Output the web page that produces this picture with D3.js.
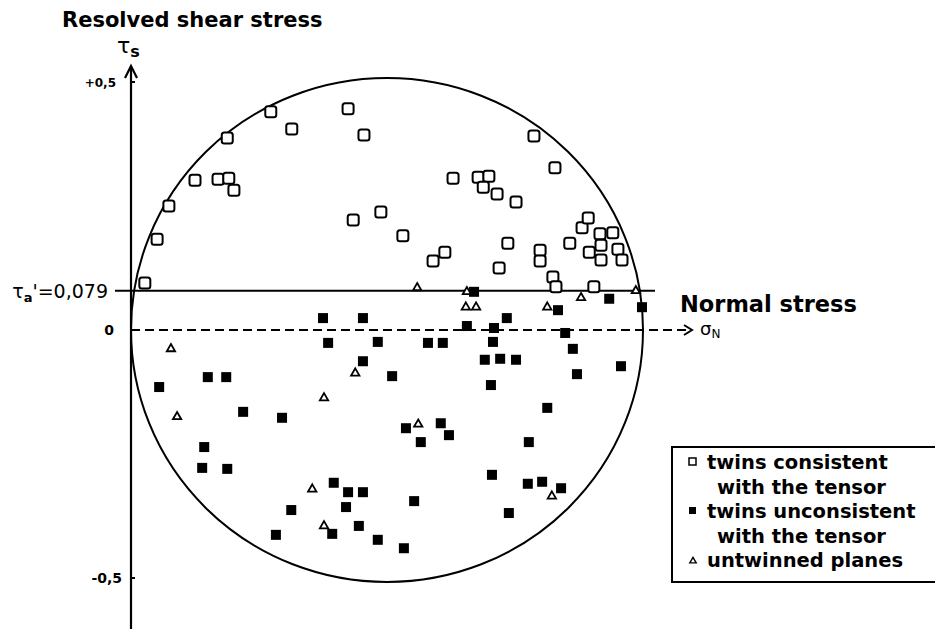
<!DOCTYPE html>
<html>
<head>
<meta charset="utf-8">
<script src="https://cdn.jsdelivr.net/npm/d3@7"></script>
<style>
  body { margin: 0; background: #fff; }
  svg { display: block; font-family: "DejaVu Sans", sans-serif; }
</style>
</head>
<body>
<div id="chart"></div>
<script>
// normal stress (sigma N) and resolved shear stress (tau s)
var consistentSigma = [0.027, 0.051, 0.074, 0.125, 0.170, 0.191, 0.201, 0.188, 0.273, 0.314, 0.424, 0.455, 0.434, 0.488,
  0.531, 0.590, 0.613, 0.629, 0.678, 0.699, 0.688, 0.715, 0.752, 0.787, 0.828, 0.736, 0.719, 0.799, 0.799, 0.824,
  0.830, 0.857, 0.881, 0.893, 0.895, 0.916, 0.918, 0.918, 0.941, 0.951, 0.959, 0.904];
var consistentTau = [0.095, 0.183, 0.250, 0.302, 0.304, 0.306, 0.282, 0.387, 0.440, 0.405, 0.446, 0.393, 0.222, 0.238,
  0.190, 0.139, 0.157, 0.306, 0.308, 0.310, 0.288, 0.274, 0.258, 0.391, 0.327, 0.175, 0.125, 0.161, 0.139, 0.107,
  0.087, 0.175, 0.206, 0.226, 0.157, 0.194, 0.171, 0.141, 0.196, 0.163, 0.141, 0.087];

var unconsistentSigma = [0.375, 0.453, 0.385, 0.482, 0.453, 0.510, 0.055, 0.150, 0.186, 0.219, 0.295, 0.670, 0.998,
  0.834, 0.934, 0.734, 0.656, 0.709, 0.848, 0.580, 0.609, 0.707, 0.691, 0.721, 0.752, 0.863, 0.871, 0.957, 0.703,
  0.813, 0.537, 0.605, 0.621, 0.566, 0.777, 0.705, 0.775, 0.803, 0.840, 0.553, 0.738, 0.143, 0.139, 0.188, 0.396,
  0.424, 0.453, 0.313, 0.420, 0.445, 0.283, 0.393, 0.482, 0.533];
var unconsistentTau = [0.024, 0.024, -0.026, -0.024, -0.063, -0.093, -0.115, -0.095, -0.095, -0.165, -0.177, 0.077, 0.046,
  0.040, 0.063, 0.024, 0.008, 0.004, -0.006, -0.026, -0.026, -0.024, -0.060, -0.058, -0.060, -0.038, -0.089, -0.073, -0.111,
  -0.157, -0.198, -0.188, -0.212, -0.226, -0.226, -0.292, -0.310, -0.306, -0.319, -0.345, -0.369, -0.236, -0.278, -0.280, -0.308,
  -0.327, -0.327, -0.363, -0.357, -0.395, -0.413, -0.411, -0.423, -0.440];

var untwinnedSigma = [0.078, 0.090, 0.438, 0.377, 0.559, 0.656, 0.654, 0.674, 0.813, 0.879, 0.986, 0.561, 0.354, 0.377, 0.822];
var untwinnedTau = [-0.038, -0.175, -0.087, -0.137, 0.085, 0.077, 0.046, 0.046, 0.046, 0.065, 0.079, -0.190, -0.321, -0.395, -0.335];

var tauA = 0.079;
var tickValues = [0.5, 0, -0.5];
var tickLabels = ['+0,5', '0', '-0,5'];
var legendLines = ['twins consistent', 'with the tensor', 'twins unconsistent', 'with the tensor', 'untwinned planes'];

var width = 935, height = 629;

var svg = d3.select('#chart').append('svg')
  .attr('width', width)
  .attr('height', height);

// scales: sigma 0..1 across the circle, tau -0.5..0.5
var x = d3.scaleLinear().domain([0, 1]).range([131, 643]);
var y = d3.scaleLinear().domain([-0.5, 0.5]).range([578, 82]);

// Mohr circle
svg.append('ellipse')
  .attr('cx', x(0.5))
  .attr('cy', y(0))
  .attr('rx', x(1) - x(0.5))
  .attr('ry', y(-0.508) - y(0))
  .attr('fill', 'none')
  .attr('stroke', '#000')
  .attr('stroke-width', 2);

// vertical axis with arrow
svg.append('line')
  .attr('x1', x(0)).attr('x2', x(0))
  .attr('y1', 68).attr('y2', height)
  .attr('stroke', '#000').attr('stroke-width', 2.2);
svg.append('path')
  .attr('d', 'M' + (x(0) - 6) + ',78 L' + x(0) + ',66 L' + (x(0) + 6) + ',78')
  .attr('fill', 'none').attr('stroke', '#000').attr('stroke-width', 2.2);

// ticks and labels
svg.selectAll('.tick')
  .data(tickValues.filter(function (d) { return d !== 0; }))
  .enter().append('line')
  .attr('x1', x(0)).attr('x2', x(0) + 4)
  .attr('y1', function (d) { return y(d); })
  .attr('y2', function (d) { return y(d); })
  .attr('stroke', '#000').attr('stroke-width', 2);

svg.selectAll('.tlabel')
  .data(tickValues)
  .enter().append('text')
  .attr('x', function (d, i) { return i === 1 ? 114 : (i === 0 ? 116 : 122); })
  .attr('y', function (d) { return y(d) + 5; })
  .attr('text-anchor', 'end')
  .attr('font-size', function (d, i) { return i === 0 ? '12px' : '14px'; })
  .attr('font-weight', 'bold')
  .text(function (d, i) { return tickLabels[i]; });

// tau_a' threshold line
svg.append('line')
  .attr('x1', 115).attr('x2', 655)
  .attr('y1', y(tauA)).attr('y2', y(tauA))
  .attr('stroke', '#000').attr('stroke-width', 2);
var ta = svg.append('text')
  .attr('x', 108)
  .attr('y', y(tauA) + 7)
  .attr('text-anchor', 'end')
  .attr('font-size', '19px');
ta.append('tspan').text('τ');
ta.append('tspan').attr('font-size', '13px').attr('dy', 4).attr('font-weight', 'bold').text('a');
ta.append('tspan').attr('dy', -4).text("'=0,079");

// dashed sigma N axis
svg.append('line')
  .attr('x1', x(0)).attr('x2', 690)
  .attr('y1', y(0)).attr('y2', y(0))
  .attr('stroke', '#000').attr('stroke-width', 2)
  .attr('stroke-dasharray', '9,5');
svg.append('path')
  .attr('d', 'M684,' + (y(0) - 5) + ' L692,' + y(0) + ' L684,' + (y(0) + 5))
  .attr('fill', 'none').attr('stroke', '#000').attr('stroke-width', 2);

var sn = svg.append('text').attr('x', 700).attr('y', y(0) + 5).attr('font-size', '18px');
sn.append('tspan').text('σ');
sn.append('tspan').attr('font-size', '12px').attr('dy', 3).text('N');

// axis titles
svg.append('text')
  .attr('x', 62).attr('y', 27)
  .attr('font-size', '21px').attr('font-weight', 'bold')
  .text('Resolved shear stress');
var ts = svg.append('text').attr('x', 117).attr('y', 53).attr('font-size', '22px');
ts.append('tspan').text('τ');
ts.append('tspan').attr('font-size', '16px').attr('font-weight', 'bold').attr('dy', 4).text('s');

svg.append('text')
  .attr('x', 680).attr('y', 312)
  .attr('font-size', '22.5px').attr('font-weight', 'bold')
  .text('Normal stress');

// points
var pts = svg.append('g');
pts.selectAll('.open')
  .data(d3.range(consistentSigma.length))
  .enter().append('rect')
  .attr('x', function (i) { return x(consistentSigma[i]) - 5.5; })
  .attr('y', function (i) { return y(consistentTau[i]) - 5.5; })
  .attr('width', 11).attr('height', 11).attr('rx', 2.5)
  .attr('fill', '#fff').attr('stroke', '#000').attr('stroke-width', 2);

pts.selectAll('.filled')
  .data(d3.range(unconsistentSigma.length))
  .enter().append('rect')
  .attr('x', function (i) { return x(unconsistentSigma[i]) - 5; })
  .attr('y', function (i) { return y(unconsistentTau[i]) - 5; })
  .attr('width', 10).attr('height', 10)
  .attr('fill', '#000');

var tri = d3.symbol().type(d3.symbolTriangle).size(30);
pts.selectAll('.tri')
  .data(d3.range(untwinnedSigma.length))
  .enter().append('path')
  .attr('d', tri)
  .attr('transform', function (i) { return 'translate(' + x(untwinnedSigma[i]) + ',' + y(untwinnedTau[i]) + ')'; })
  .attr('fill', '#fff').attr('stroke', '#000').attr('stroke-width', 1.8);

// legend
var lg = svg.append('g');
lg.append('rect')
  .attr('x', 672).attr('y', 447)
  .attr('width', 300).attr('height', 135)
  .attr('fill', 'none').attr('stroke', '#000').attr('stroke-width', 2);

lg.selectAll('text')
  .data(legendLines)
  .enter().append('text')
  .attr('x', function (d, i) { return i % 2 === 0 ? 707 : 717; })
  .attr('y', function (d, i) { return 469 + i * 24.5; })
  .attr('font-size', '19.5px').attr('font-weight', 'bold')
  .text(function (d) { return d; });

lg.append('rect').attr('x', 689).attr('y', 458).attr('width', 7).attr('height', 7)
  .attr('fill', '#fff').attr('stroke', '#000').attr('stroke-width', 1.5);
lg.append('rect').attr('x', 689).attr('y', 507).attr('width', 7).attr('height', 7)
  .attr('fill', '#000');
lg.append('path')
  .attr('d', d3.symbol().type(d3.symbolTriangle).size(18))
  .attr('transform', 'translate(693,561)')
  .attr('fill', '#fff').attr('stroke', '#000').attr('stroke-width', 1.4);
</script>
</body>
</html>
